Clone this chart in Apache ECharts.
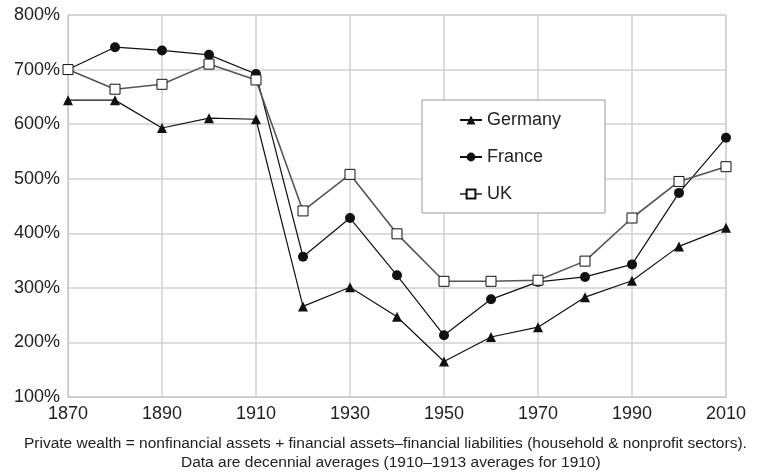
<!DOCTYPE html>
<html><head><meta charset="utf-8">
<script src="https://cdn.jsdelivr.net/npm/echarts@6/dist/echarts.min.js"></script>
<style>html,body{margin:0;padding:0;background:#fff}#c{width:770px;height:473px}</style>
</head><body><div id="c"></div>
<script>
var years = [1870,1880,1890,1900,1910,1920,1930,1940,1950,1960,1970,1980,1990,2000,2010];
var germany = [644,644,593,611,609,266,301,247,165,210,228,283,313,376,410];
var france  = [700,741,735,727,692,357,428,323,213,279,311,320,343,474,575];
var uk      = [700,664,673,710,681,441,508,399,312,312,314,349,428,495,522];
var xTicks = [1870,1890,1910,1930,1950,1970,1990,2010];
var footnote = ['Private wealth = nonfinancial assets + financial assets\u2013financial liabilities (household & nonprofit sectors).',
                'Data are decennial averages (1910\u20131913 averages for 1910)'];

function pairs(v){ return years.map(function(y,i){ return [y, v[i]]; }); }
var font = 'Liberation Sans, Arial, sans-serif';
var noteStyle = {fontSize:15.5,fontWeight:'normal',color:'#222',fontFamily:font};
var chart = echarts.init(document.getElementById('c'));
chart.setOption({
  animation:false,
  backgroundColor:'#fff',
  textStyle:{fontFamily:font},
  grid:{left:68,right:44,top:15,bottom:76,show:true,borderColor:'#c8c8c8',borderWidth:1},
  title:[
    {text:footnote[0],left:24,top:436,padding:0,textStyle:noteStyle},
    {text:footnote[1],left:181,top:455,padding:0,textStyle:noteStyle}
  ],
  legend:{orient:'vertical',left:422,top:100,
    padding:[11,44,10,37],itemGap:19,itemWidth:22,itemHeight:11,
    borderColor:'#999',borderWidth:1,backgroundColor:'#fff',
    textStyle:{fontSize:18,color:'#222',fontFamily:font},
    data:['Germany','France','UK']},
  xAxis:{type:'value',min:1870,max:2010,interval:20,
    axisLine:{show:true,lineStyle:{color:'#c8c8c8'}},axisTick:{show:false},
    splitLine:{show:true,lineStyle:{color:'#d0d0d0',width:1.5}},
    axisLabel:{fontSize:18,color:'#222',margin:8,fontFamily:font,
      formatter:function(v){return xTicks.indexOf(v)>=0?String(v):'';}}},
  yAxis:{type:'value',min:100,max:800,interval:100,
    axisLine:{show:true,lineStyle:{color:'#c8c8c8'}},axisTick:{show:false},
    splitLine:{show:true,lineStyle:{color:'#d0d0d0',width:1.5}},
    axisLabel:{fontSize:18,color:'#222',margin:8,fontFamily:font,formatter:'{value}%'}},
  series:[
    {name:'Germany',type:'line',data:pairs(germany),symbol:'triangle',symbolSize:10,
      lineStyle:{color:'#111',width:1.2},itemStyle:{color:'#111'},z:3},
    {name:'France',type:'line',data:pairs(france),symbol:'circle',symbolSize:10,
      lineStyle:{color:'#111',width:1.2},itemStyle:{color:'#111'},z:3},
    {name:'UK',type:'line',data:pairs(uk),symbol:'rect',symbolSize:10,
      lineStyle:{color:'#555',width:1.6},itemStyle:{color:'#fff',borderColor:'#111',borderWidth:1},z:4}
  ]
});
</script></body></html>
